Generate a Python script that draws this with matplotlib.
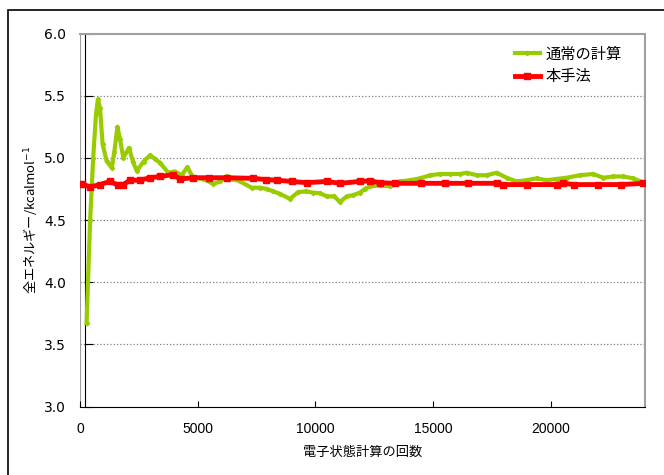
import matplotlib
matplotlib.use('Agg')
import matplotlib.pyplot as plt
from matplotlib.patches import Rectangle

# 通常の計算 (green)
normal_x = [280, 430, 560, 680, 760, 850, 960, 1130, 1350, 1460, 1590, 1700,
            1840, 2080, 2250, 2410, 2700, 2970, 3200, 3400, 3750, 4040, 4320,
            4560, 4810, 5240, 5660, 5950, 6230, 6500, 6800, 7290, 7650, 7930,
            8210, 8500, 8920, 9270, 9600, 9910, 10200, 10480, 10800, 11040,
            11330, 11600, 11890, 12100, 12320, 12740, 13170, 13310, 13590,
            14020, 14440, 14870, 15290, 15720, 16140, 16430, 16850, 17270,
            17700, 18120, 18550, 18970, 19400, 19820, 20250, 20670, 21240,
            21800, 22230, 22650, 23080, 23500, 23930]
normal_y = [3.67, 4.50, 5.00, 5.35, 5.47, 5.40, 5.11, 4.975, 4.92, 5.05, 5.25,
            5.15, 5.00, 5.08, 4.97, 4.895, 4.97, 5.02, 4.99, 4.96, 4.88, 4.89,
            4.86, 4.925, 4.84, 4.83, 4.79, 4.81, 4.85, 4.83, 4.81, 4.76, 4.76,
            4.75, 4.73, 4.71, 4.67, 4.725, 4.73, 4.72, 4.715, 4.69, 4.69,
            4.645, 4.69, 4.70, 4.72, 4.75, 4.77, 4.78, 4.77, 4.79, 4.81, 4.82,
            4.835, 4.86, 4.87, 4.87, 4.87, 4.88, 4.86, 4.86, 4.88, 4.84, 4.81,
            4.82, 4.835, 4.82, 4.83, 4.84, 4.86, 4.87, 4.84, 4.85, 4.85,
            4.835, 4.80]

# 本手法 (red)
method_x = [100, 420, 850, 1270, 1630, 1840, 2120, 2550, 2970, 3400, 3960,
            4250, 4810, 5500, 6230, 7360, 7900, 8350, 9000, 9630, 10480,
            11040, 11890, 12320, 12740, 13380, 14500, 15500, 16500, 17700,
            17980, 19000, 20250, 20530, 21000, 22000, 23000, 23930]
method_y = [4.79, 4.765, 4.785, 4.81, 4.78, 4.785, 4.82, 4.82, 4.84, 4.85,
            4.865, 4.83, 4.84, 4.84, 4.84, 4.835, 4.825, 4.82, 4.81, 4.80,
            4.81, 4.795, 4.81, 4.815, 4.80, 4.795, 4.795, 4.795, 4.795,
            4.795, 4.785, 4.785, 4.785, 4.795, 4.785, 4.785, 4.785, 4.795]

x_ticks = [0, 5000, 10000, 15000, 20000]
y_ticks = [3.0, 3.5, 4.0, 4.5, 5.0, 5.5, 6.0]

jp = ['Noto Sans CJK JP', 'DejaVu Sans']
num = ['Liberation Sans', 'DejaVu Sans']

fig = plt.figure(figsize=(6.64, 4.75), dpi=100)
ax = fig.add_axes([80 / 664, 1 - 406.5 / 475, 565 / 664, 373 / 475])

# 外枠
fig.patches.append(Rectangle((8 / 664, -0.2), 1.2, 1 - 10 / 475 + 0.2,
                             transform=fig.transFigure, fill=False,
                             edgecolor='black', linewidth=1.2))

for yv in y_ticks[1:-1]:
    ax.axhline(yv, color='#808080', linestyle=':', linewidth=0.9, zorder=1)
ax.axvline(0, color='#a0a0a0', linewidth=1.5, zorder=1)

ax.plot(normal_x, normal_y, color='#99cc00', linewidth=3, marker='D',
        markersize=2.2, label='通常の計算', zorder=3)
ax.plot(method_x, method_y, color='#ff0000', linewidth=3.5, marker='s',
        markersize=3.8, label='本手法', zorder=4)

ax.set_xlim(0, 24000)
ax.set_ylim(3.0, 6.0)
ax.set_xticks(x_ticks)
ax.set_yticks(y_ticks)
ax.set_yticklabels([f'{v:.1f}' for v in y_ticks], family=num, fontsize=10)
ax.set_xticklabels([str(v) for v in x_ticks], family=num, fontsize=10)

ax.spines['left'].set_position(('data', 230))
ax.spines['left'].set_color('black')
ax.spines['bottom'].set_color('black')
for s in ['top', 'right']:
    ax.spines[s].set_color('#a0a0a0')
    ax.spines[s].set_linewidth(1.5)
ax.tick_params(axis='y', direction='in', length=6, pad=14)
ax.tick_params(axis='x', direction='in', length=4, pad=11)

ax.set_xlabel('電子状態計算の回数', family=jp, fontsize=9.5)
ax.xaxis.set_label_coords(0.5, -0.105)
ax.set_ylabel('全エネルギー/kcalmol$^{-1}$', family=jp, fontsize=9.5)
ax.yaxis.set_label_coords(-0.072, 0.5)

leg = ax.legend(loc='upper left', bbox_to_anchor=(0.745, 1.005), frameon=False,
                prop={'family': jp, 'size': 11}, handlelength=1.65,
                handletextpad=0.35, labelspacing=0.4)

fig.savefig('out.png', dpi=100)
